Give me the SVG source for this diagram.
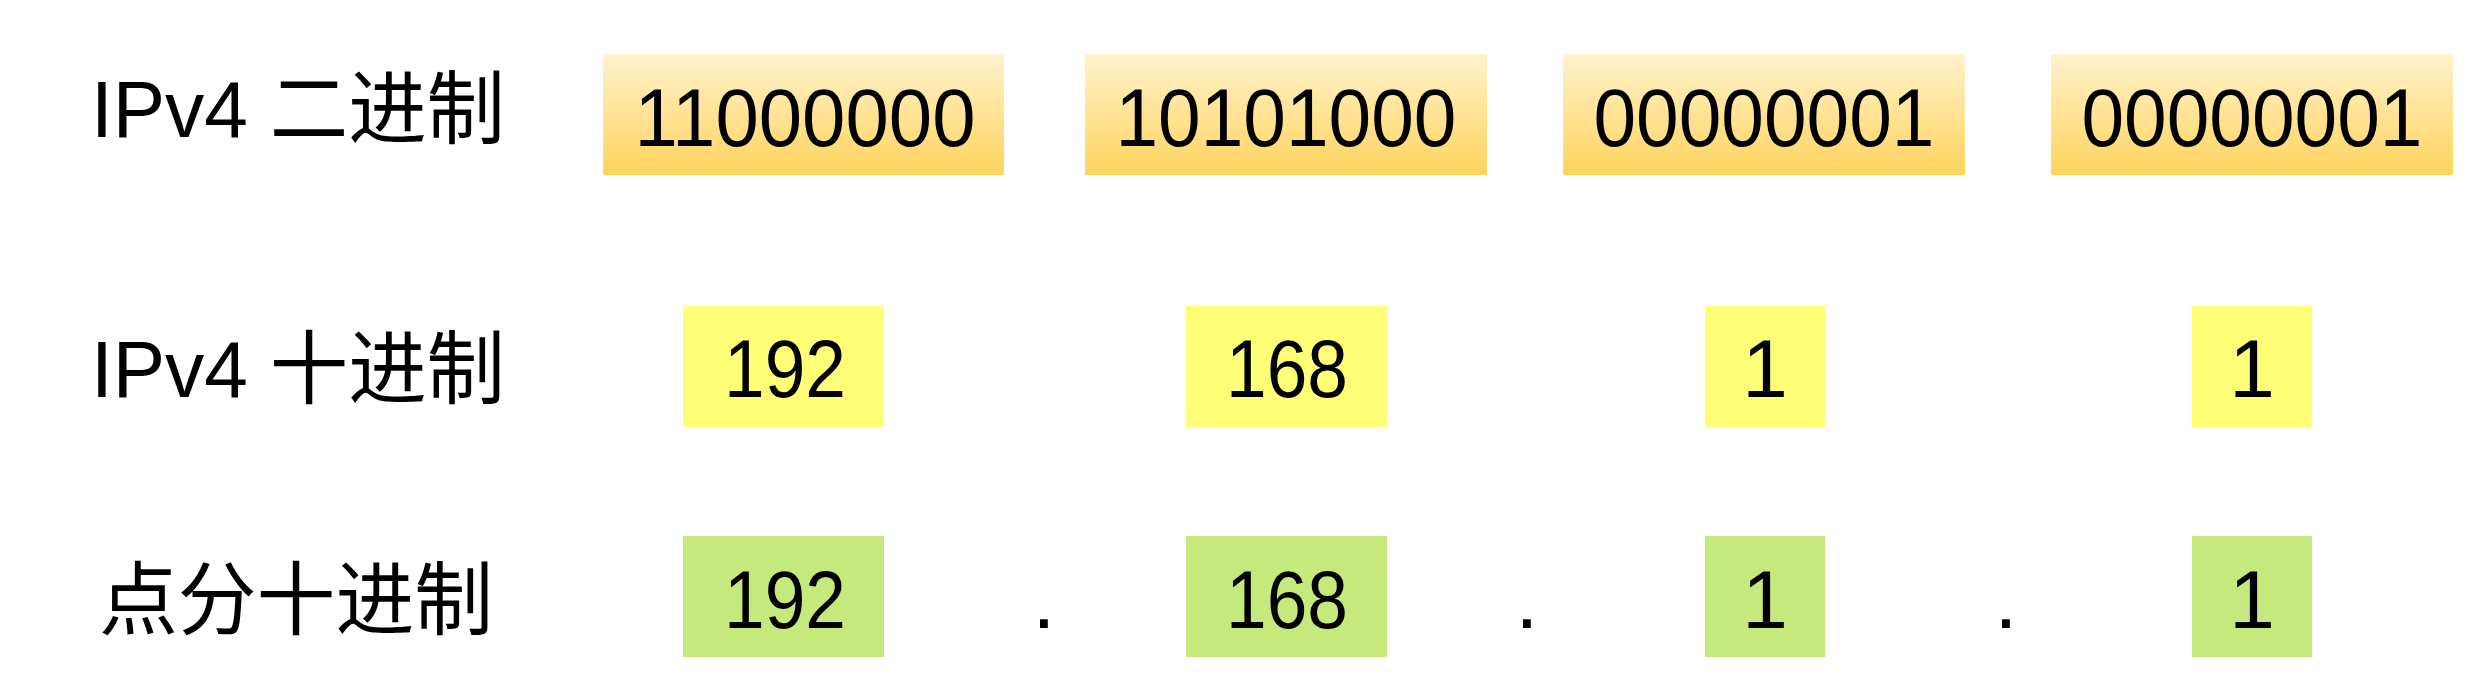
<svg xmlns="http://www.w3.org/2000/svg" width="2474" height="696" viewBox="0 0 2474 696">
<defs>
<linearGradient id="gBin" x1="0" y1="0" x2="0" y2="1">
<stop offset="0" stop-color="#fff2cc"/>
<stop offset="1" stop-color="#ffd45e"/>
</linearGradient>
<style>
.bin{fill:url(#gBin)}
.dec{fill:#ffff77}
.dot{fill:#c5e97d}
text{font-family:"Liberation Sans","Noto Sans CJK SC",Arial,sans-serif;fill:#000}
.num{font-size:82px;text-anchor:middle}
.lbl{font-size:80px}
</style>
</defs>
<rect width="2474" height="696" fill="#ffffff"/>
<g id="labels">
<text class="lbl" x="91" y="137" textLength="414" lengthAdjust="spacingAndGlyphs">IPv4 二进制</text>
<text class="lbl" x="91" y="397" textLength="414" lengthAdjust="spacingAndGlyphs">IPv4 十进制</text>
<text class="lbl" x="99" y="628" textLength="394" lengthAdjust="spacingAndGlyphs">点分十进制</text>
</g>
<g id="bin1"><rect class="bin" x="603" y="54" width="401" height="121"/><text class="num" x="805" y="146" textLength="341" lengthAdjust="spacingAndGlyphs">11000000</text></g>
<g id="bin2"><rect class="bin" x="1085" y="54" width="402" height="121"/><text class="num" x="1286" y="146" textLength="341" lengthAdjust="spacingAndGlyphs">10101000</text></g>
<g id="bin3"><rect class="bin" x="1563" y="54" width="402" height="121"/><text class="num" x="1764" y="146" textLength="341" lengthAdjust="spacingAndGlyphs">00000001</text></g>
<g id="bin4"><rect class="bin" x="2051" y="54" width="402" height="121"/><text class="num" x="2252" y="146" textLength="341" lengthAdjust="spacingAndGlyphs">00000001</text></g>
<g id="dec1"><rect class="dec" x="683" y="306" width="201" height="121"/><text class="num" x="785" y="397" textLength="122" lengthAdjust="spacingAndGlyphs">192</text></g>
<g id="dec2"><rect class="dec" x="1186" y="306" width="201" height="121"/><text class="num" x="1287" y="397" textLength="122" lengthAdjust="spacingAndGlyphs">168</text></g>
<g id="dec3"><rect class="dec" x="1705" y="306" width="120" height="121"/><text class="num" x="1765" y="397">1</text></g>
<g id="dec4"><rect class="dec" x="2192" y="306" width="120" height="121"/><text class="num" x="2252" y="397">1</text></g>
<g id="dd1"><rect class="dot" x="683" y="536" width="201" height="121"/><text class="num" x="785" y="628" textLength="122" lengthAdjust="spacingAndGlyphs">192</text></g>
<g id="dd2"><rect class="dot" x="1186" y="536" width="201" height="121"/><text class="num" x="1287" y="628" textLength="122" lengthAdjust="spacingAndGlyphs">168</text></g>
<g id="dd3"><rect class="dot" x="1705" y="536" width="120" height="121"/><text class="num" x="1765" y="628">1</text></g>
<g id="dd4"><rect class="dot" x="2192" y="536" width="120" height="121"/><text class="num" x="2252" y="628">1</text></g>
<g id="dots">
<text class="num" x="1044" y="628">.</text>
<text class="num" x="1527" y="628">.</text>
<text class="num" x="2006" y="628">.</text>
</g>
<g id="connectors"/>
</svg>
